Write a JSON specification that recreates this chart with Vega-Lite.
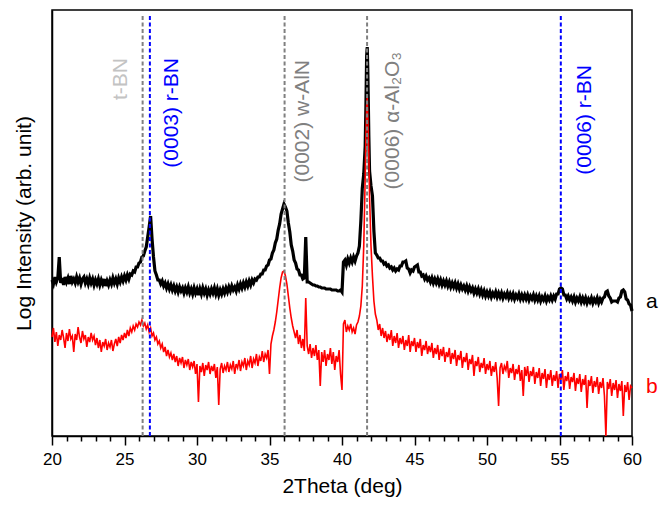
{
  "$schema": "https://vega.github.io/schema/vega-lite/v6.json",
  "width": 580,
  "height": 426,
  "autosize": {"type": "none"},
  "padding": {"left": 52, "top": 10, "right": 33, "bottom": 69},
  "config": {
    "view": {"stroke": "black", "strokeWidth": 1.5},
    "font": "Liberation Sans"
  },
  "datasets": {
    "xrd": [
      {"x":20.0,"a":156,"b":99},{"x":20.1,"a":152,"b":108},{"x":20.2,"a":159,"b":94},{"x":20.3,"a":154,"b":104},{"x":20.4,"a":158,"b":90},
      {"x":20.5,"a":179,"b":101},{"x":20.6,"a":153,"b":96},{"x":20.7,"a":158,"b":106},{"x":20.8,"a":151,"b":98},{"x":20.9,"a":159,"b":88},
      {"x":21.0,"a":154,"b":103},{"x":21.1,"a":158,"b":95},{"x":21.2,"a":152,"b":107},{"x":21.3,"a":160,"b":97},{"x":21.4,"a":154,"b":100},
      {"x":21.5,"a":157,"b":84},{"x":21.6,"a":153,"b":102},{"x":21.7,"a":159,"b":96},{"x":21.8,"a":154,"b":109},{"x":21.9,"a":158,"b":99},
      {"x":22.0,"a":152,"b":93},{"x":22.1,"a":157,"b":105},{"x":22.2,"a":159,"b":97},{"x":22.3,"a":153,"b":101},{"x":22.4,"a":157,"b":89},
      {"x":22.5,"a":152,"b":99},{"x":22.6,"a":158,"b":94},{"x":22.7,"a":153,"b":103},{"x":22.8,"a":157,"b":96},{"x":22.9,"a":151,"b":100},
      {"x":23.0,"a":156,"b":91},{"x":23.1,"a":152,"b":98},{"x":23.2,"a":157,"b":88},{"x":23.3,"a":151,"b":96},{"x":23.4,"a":156,"b":84},
      {"x":23.5,"a":152,"b":94},{"x":23.6,"a":157,"b":90},{"x":23.7,"a":150,"b":97},{"x":23.8,"a":155,"b":86},{"x":23.9,"a":151,"b":93},
      {"x":24.0,"a":156,"b":89},{"x":24.1,"a":152,"b":96},{"x":24.2,"a":158,"b":85},{"x":24.3,"a":153,"b":92},{"x":24.4,"a":157,"b":97},
      {"x":24.5,"a":152,"b":90},{"x":24.6,"a":158,"b":99},{"x":24.7,"a":154,"b":93},{"x":24.8,"a":159,"b":101},{"x":24.9,"a":155,"b":96},
      {"x":25.0,"a":160,"b":103},{"x":25.1,"a":156,"b":98},{"x":25.2,"a":161,"b":106},{"x":25.3,"a":157,"b":100},{"x":25.4,"a":162,"b":108},
      {"x":25.5,"a":161,"b":104},{"x":25.6,"a":165,"b":110},{"x":25.7,"a":164,"b":106},{"x":25.8,"a":169,"b":112},{"x":25.9,"a":169,"b":109},
      {"x":26.0,"a":173,"b":114},{"x":26.1,"a":174,"b":111},{"x":26.2,"a":179,"b":116},{"x":26.3,"a":180,"b":110},{"x":26.4,"a":185,"b":113},
      {"x":26.5,"a":189,"b":107},{"x":26.6,"a":199,"b":111},{"x":26.7,"a":209,"b":104},{"x":26.8,"a":220,"b":108},{"x":26.9,"a":197,"b":100},
      {"x":27.0,"a":179,"b":103},{"x":27.1,"a":165,"b":96},{"x":27.2,"a":161,"b":99},{"x":27.3,"a":156,"b":92},{"x":27.4,"a":156,"b":95},
      {"x":27.5,"a":152,"b":88},{"x":27.6,"a":155,"b":92},{"x":27.7,"a":150,"b":84},{"x":27.8,"a":153,"b":89},{"x":27.9,"a":148,"b":80},
      {"x":28.0,"a":152,"b":86},{"x":28.1,"a":147,"b":79},{"x":28.2,"a":151,"b":83},{"x":28.3,"a":146,"b":76},{"x":28.4,"a":150,"b":82},
      {"x":28.5,"a":145,"b":74},{"x":28.6,"a":149,"b":80},{"x":28.7,"a":144,"b":70},{"x":28.8,"a":149,"b":78},{"x":28.9,"a":145,"b":73},
      {"x":29.0,"a":148,"b":79},{"x":29.1,"a":143,"b":68},{"x":29.2,"a":148,"b":76},{"x":29.3,"a":144,"b":71},{"x":29.4,"a":149,"b":77},
      {"x":29.5,"a":143,"b":66},{"x":29.6,"a":147,"b":74},{"x":29.7,"a":142,"b":69},{"x":29.8,"a":148,"b":75},{"x":29.9,"a":143,"b":62},
      {"x":30.0,"a":147,"b":72},{"x":30.1,"a":141,"b":34},{"x":30.2,"a":147,"b":70},{"x":30.3,"a":142,"b":64},{"x":30.4,"a":148,"b":73},
      {"x":30.5,"a":143,"b":60},{"x":30.6,"a":147,"b":71},{"x":30.7,"a":141,"b":66},{"x":30.8,"a":146,"b":74},{"x":30.9,"a":142,"b":62},
      {"x":31.0,"a":147,"b":70},{"x":31.1,"a":143,"b":65},{"x":31.2,"a":148,"b":72},{"x":31.3,"a":142,"b":58},{"x":31.4,"a":147,"b":69},
      {"x":31.5,"a":141,"b":31},{"x":31.6,"a":146,"b":67},{"x":31.7,"a":142,"b":73},{"x":31.8,"a":147,"b":63},{"x":31.9,"a":143,"b":70},
      {"x":32.0,"a":148,"b":66},{"x":32.1,"a":144,"b":74},{"x":32.2,"a":149,"b":64},{"x":32.3,"a":145,"b":71},{"x":32.4,"a":150,"b":67},
      {"x":32.5,"a":146,"b":75},{"x":32.6,"a":149,"b":62},{"x":32.7,"a":145,"b":72},{"x":32.8,"a":151,"b":68},{"x":32.9,"a":147,"b":76},
      {"x":33.0,"a":152,"b":65},{"x":33.1,"a":148,"b":74},{"x":33.2,"a":153,"b":70},{"x":33.3,"a":149,"b":78},{"x":33.4,"a":154,"b":66},
      {"x":33.5,"a":150,"b":75},{"x":33.6,"a":155,"b":71},{"x":33.7,"a":151,"b":80},{"x":33.8,"a":156,"b":68},{"x":33.9,"a":153,"b":77},
      {"x":34.0,"a":157,"b":73},{"x":34.1,"a":156,"b":82},{"x":34.2,"a":159,"b":70},{"x":34.3,"a":159,"b":79},{"x":34.4,"a":162,"b":75},
      {"x":34.5,"a":162,"b":85},{"x":34.6,"a":166,"b":74},{"x":34.7,"a":166,"b":82},{"x":34.8,"a":170,"b":78},{"x":34.9,"a":171,"b":86},
      {"x":35.0,"a":176,"b":62},{"x":35.1,"a":177,"b":92},{"x":35.2,"a":183,"b":100},{"x":35.3,"a":186,"b":106},{"x":35.4,"a":193,"b":114},
      {"x":35.5,"a":197,"b":124},{"x":35.6,"a":206,"b":136},{"x":35.7,"a":212,"b":148},{"x":35.8,"a":222,"b":158},{"x":35.9,"a":227,"b":164},
      {"x":36.0,"a":232,"b":165},{"x":36.1,"a":229,"b":160},{"x":36.2,"a":225,"b":152},{"x":36.3,"a":213,"b":140},{"x":36.4,"a":204,"b":128},
      {"x":36.5,"a":191,"b":118},{"x":36.6,"a":185,"b":110},{"x":36.7,"a":176,"b":104},{"x":36.8,"a":173,"b":98},{"x":36.9,"a":167,"b":106},
      {"x":37.0,"a":166,"b":92},{"x":37.1,"a":161,"b":101},{"x":37.2,"a":161,"b":88},{"x":37.3,"a":157,"b":97},{"x":37.4,"a":158,"b":85},
      {"x":37.5,"a":199,"b":138},{"x":37.6,"a":154,"b":90},{"x":37.7,"a":154,"b":82},{"x":37.8,"a":153,"b":92},{"x":37.9,"a":152,"b":78},
      {"x":38.0,"a":151,"b":88},{"x":38.1,"a":151,"b":80},{"x":38.2,"a":150,"b":91},{"x":38.3,"a":150,"b":76},{"x":38.4,"a":149,"b":86},
      {"x":38.5,"a":149,"b":50},{"x":38.6,"a":148,"b":84},{"x":38.7,"a":148,"b":74},{"x":38.8,"a":148,"b":86},{"x":38.9,"a":147,"b":70},
      {"x":39.0,"a":147,"b":82},{"x":39.1,"a":147,"b":76},{"x":39.2,"a":147,"b":88},{"x":39.3,"a":146,"b":72},{"x":39.4,"a":146,"b":84},
      {"x":39.5,"a":146,"b":66},{"x":39.6,"a":146,"b":80},{"x":39.7,"a":145,"b":74},{"x":39.8,"a":145,"b":86},{"x":39.9,"a":146,"b":62},
      {"x":40.0,"a":144,"b":46},{"x":40.1,"a":174,"b":112},{"x":40.2,"a":176,"b":116},{"x":40.3,"a":171,"b":104},{"x":40.4,"a":177,"b":110},
      {"x":40.5,"a":173,"b":106},{"x":40.6,"a":178,"b":112},{"x":40.7,"a":174,"b":104},{"x":40.8,"a":179,"b":108},{"x":40.9,"a":175,"b":102},
      {"x":41.0,"a":180,"b":111},{"x":41.1,"a":183,"b":114},{"x":41.2,"a":190,"b":120},{"x":41.3,"a":215,"b":130},{"x":41.4,"a":248,"b":150},
      {"x":41.5,"a":262,"b":190},{"x":41.6,"a":290,"b":260},{"x":41.65,"a":330,"b":300},{"x":41.7,"a":380,"b":330},{"x":41.74,"a":389,"b":338},
      {"x":41.78,"a":366,"b":320},{"x":41.85,"a":300,"b":280},{"x":41.9,"a":265,"b":240},{"x":42.0,"a":250,"b":190},{"x":42.1,"a":240,"b":160},
      {"x":42.2,"a":205,"b":135},{"x":42.3,"a":183,"b":122},{"x":42.4,"a":181,"b":116},{"x":42.5,"a":178,"b":106},{"x":42.6,"a":178,"b":112},
      {"x":42.7,"a":175,"b":100},{"x":42.8,"a":175,"b":108},{"x":42.9,"a":172,"b":98},{"x":43.0,"a":173,"b":105},{"x":43.1,"a":170,"b":94},
      {"x":43.2,"a":171,"b":102},{"x":43.3,"a":168,"b":96},{"x":43.4,"a":169,"b":106},{"x":43.5,"a":166,"b":90},{"x":43.6,"a":168,"b":100},
      {"x":43.7,"a":165,"b":93},{"x":43.8,"a":167,"b":103},{"x":43.9,"a":166,"b":88},{"x":44.0,"a":170,"b":98},{"x":44.1,"a":170,"b":92},
      {"x":44.2,"a":174,"b":100},{"x":44.3,"a":174,"b":86},{"x":44.4,"a":175,"b":96},{"x":44.5,"a":168,"b":90},{"x":44.6,"a":167,"b":101},
      {"x":44.7,"a":163,"b":84},{"x":44.8,"a":166,"b":95},{"x":44.9,"a":165,"b":90},{"x":45.0,"a":169,"b":98},{"x":45.1,"a":170,"b":84},
      {"x":45.2,"a":171,"b":94},{"x":45.3,"a":164,"b":88},{"x":45.4,"a":164,"b":97},{"x":45.5,"a":160,"b":80},{"x":45.6,"a":161,"b":91},
      {"x":45.7,"a":157,"b":86},{"x":45.8,"a":160,"b":95},{"x":45.9,"a":156,"b":82},{"x":46.0,"a":158,"b":90},{"x":46.1,"a":154,"b":84},
      {"x":46.2,"a":158,"b":93},{"x":46.3,"a":153,"b":78},{"x":46.4,"a":157,"b":88},{"x":46.5,"a":153,"b":82},{"x":46.6,"a":157,"b":91},
      {"x":46.7,"a":152,"b":76},{"x":46.8,"a":156,"b":87},{"x":46.9,"a":151,"b":80},{"x":47.0,"a":155,"b":89},{"x":47.1,"a":151,"b":74},
      {"x":47.2,"a":155,"b":84},{"x":47.3,"a":150,"b":79},{"x":47.4,"a":154,"b":88},{"x":47.5,"a":149,"b":72},{"x":47.6,"a":153,"b":83},
      {"x":47.7,"a":149,"b":77},{"x":47.8,"a":153,"b":86},{"x":47.9,"a":148,"b":70},{"x":48.0,"a":152,"b":81},{"x":48.1,"a":147,"b":76},
      {"x":48.2,"a":151,"b":85},{"x":48.3,"a":147,"b":68},{"x":48.4,"a":150,"b":79},{"x":48.5,"a":146,"b":74},{"x":48.6,"a":150,"b":83},
      {"x":48.7,"a":145,"b":66},{"x":48.8,"a":149,"b":77},{"x":48.9,"a":145,"b":72},{"x":49.0,"a":148,"b":81},{"x":49.1,"a":143,"b":60},
      {"x":49.2,"a":147,"b":75},{"x":49.3,"a":143,"b":70},{"x":49.4,"a":147,"b":79},{"x":49.5,"a":142,"b":64},{"x":49.6,"a":146,"b":73},
      {"x":49.7,"a":141,"b":68},{"x":49.8,"a":145,"b":78},{"x":49.9,"a":140,"b":62},{"x":50.0,"a":144,"b":72},{"x":50.1,"a":140,"b":66},
      {"x":50.2,"a":144,"b":75},{"x":50.3,"a":139,"b":60},{"x":50.4,"a":143,"b":70},{"x":50.5,"a":140,"b":64},{"x":50.6,"a":144,"b":74},
      {"x":50.7,"a":139,"b":58},{"x":50.8,"a":143,"b":30},{"x":50.9,"a":139,"b":68},{"x":51.0,"a":143,"b":73},{"x":51.1,"a":138,"b":62},
      {"x":51.2,"a":142,"b":70},{"x":51.3,"a":139,"b":66},{"x":51.4,"a":143,"b":75},{"x":51.5,"a":138,"b":58},{"x":51.6,"a":142,"b":68},
      {"x":51.7,"a":138,"b":63},{"x":51.8,"a":142,"b":72},{"x":51.9,"a":137,"b":56},{"x":52.0,"a":141,"b":67},{"x":52.1,"a":138,"b":62},
      {"x":52.2,"a":142,"b":71},{"x":52.3,"a":137,"b":55},{"x":52.4,"a":141,"b":66},{"x":52.5,"a":137,"b":40},{"x":52.6,"a":141,"b":69},
      {"x":52.7,"a":137,"b":60},{"x":52.8,"a":141,"b":70},{"x":52.9,"a":136,"b":54},{"x":53.0,"a":140,"b":65},{"x":53.1,"a":137,"b":60},
      {"x":53.2,"a":141,"b":69},{"x":53.3,"a":136,"b":52},{"x":53.4,"a":140,"b":64},{"x":53.5,"a":136,"b":58},{"x":53.6,"a":140,"b":68},
      {"x":53.7,"a":135,"b":50},{"x":53.8,"a":139,"b":63},{"x":53.9,"a":136,"b":57},{"x":54.0,"a":140,"b":67},{"x":54.1,"a":135,"b":48},
      {"x":54.2,"a":139,"b":62},{"x":54.3,"a":136,"b":56},{"x":54.4,"a":140,"b":66},{"x":54.5,"a":136,"b":50},{"x":54.6,"a":140,"b":61},
      {"x":54.7,"a":137,"b":55},{"x":54.8,"a":142,"b":65},{"x":54.9,"a":142,"b":48},{"x":55.0,"a":147,"b":62},{"x":55.1,"a":148,"b":56},
      {"x":55.2,"a":147,"b":66},{"x":55.3,"a":141,"b":46},{"x":55.4,"a":141,"b":60},{"x":55.5,"a":137,"b":55},{"x":55.6,"a":140,"b":64},
      {"x":55.7,"a":136,"b":47},{"x":55.8,"a":139,"b":59},{"x":55.9,"a":135,"b":54},{"x":56.0,"a":139,"b":63},{"x":56.1,"a":134,"b":45},
      {"x":56.2,"a":138,"b":58},{"x":56.3,"a":135,"b":52},{"x":56.4,"a":139,"b":62},{"x":56.5,"a":134,"b":44},{"x":56.6,"a":138,"b":57},
      {"x":56.7,"a":134,"b":51},{"x":56.8,"a":138,"b":61},{"x":56.9,"a":133,"b":28},{"x":57.0,"a":137,"b":56},{"x":57.1,"a":134,"b":50},
      {"x":57.2,"a":138,"b":60},{"x":57.3,"a":133,"b":43},{"x":57.4,"a":137,"b":55},{"x":57.5,"a":134,"b":49},{"x":57.6,"a":138,"b":59},
      {"x":57.7,"a":133,"b":42},{"x":57.8,"a":137,"b":54},{"x":57.9,"a":134,"b":48},{"x":58.0,"a":138,"b":58},{"x":58.1,"a":139,"b":40},
      {"x":58.2,"a":144,"b":0},{"x":58.3,"a":145,"b":54},{"x":58.4,"a":140,"b":47},{"x":58.5,"a":138,"b":57},{"x":58.6,"a":134,"b":40},
      {"x":58.7,"a":135,"b":53},{"x":58.8,"a":135,"b":46},{"x":58.9,"a":135,"b":56},{"x":59.0,"a":134,"b":38},{"x":59.1,"a":138,"b":52},
      {"x":59.2,"a":139,"b":45},{"x":59.3,"a":145,"b":55},{"x":59.4,"a":146,"b":20},{"x":59.5,"a":144,"b":51},{"x":59.6,"a":137,"b":44},
      {"x":59.7,"a":136,"b":54},{"x":59.8,"a":132,"b":36},{"x":59.9,"a":131,"b":50},{"x":60.0,"a":125,"b":48}
    ],
    "refs": [
      {"x":26.25,"kind":"gray"},
      {"x":26.75,"kind":"blue"},
      {"x":36.04,"kind":"gray"},
      {"x":41.73,"kind":"gray"},
      {"x":55.09,"kind":"blue"}
    ],
    "peaklabels": [
      {"x":24.76,"y":378,"text":"t-BN","kind":"light"},
      {"x":28.28,"y":378,"text":"(0003) r-BN","kind":"blue"},
      {"x":37.31,"y":376,"text":"(0002) w-AlN","kind":"gray"},
      {"x":43.52,"y":384,"text":"(0006) α-Al₂O₃","kind":"gray"},
      {"x":56.76,"y":371,"text":"(0006) r-BN","kind":"blue"}
    ],
    "serieslabels": [
      {"x":60.96,"y":134,"text":"a","kind":"a"},
      {"x":60.96,"y":49,"text":"b","kind":"b"}
    ]
  },
  "layer": [
    {
      "data": {"name": "xrd"},
      "mark": {"type": "line", "color": "black", "strokeWidth": 3.2, "interpolate": "linear"},
      "encoding": {
        "x": {
          "field": "x", "type": "quantitative",
          "scale": {"domain": [20, 60], "nice": false, "zero": false},
          "axis": {
            "orient": "bottom",
            "values": [20, 25, 30, 35, 40, 45, 50, 55, 60],
            "tickSize": 9,
            "tickColor": "black", "tickWidth": 1.5,
            "domainColor": "black", "domainWidth": 1.5,
            "grid": false,
            "labelFont": "Liberation Sans", "labelFontSize": 17, "labelColor": "black",
            "labelPadding": 6, "labelFlush": false, "labelOverlap": false,
            "title": "2Theta (deg)", "titleFont": "Liberation Sans", "titleFontSize": 21,
            "titleFontWeight": "normal", "titleColor": "black", "titlePadding": 8
          }
        },
        "y": {
          "field": "a", "type": "quantitative",
          "scale": {"domain": [0, 426], "nice": false, "zero": false},
          "axis": {
            "ticks": false, "labels": false, "grid": false,
            "domainColor": "black", "domainWidth": 1.5,
            "title": "Log Intensity (arb. unit)", "titleFont": "Liberation Sans",
            "titleFontSize": 21, "titleFontWeight": "normal", "titleColor": "black",
            "titlePadding": 18
          }
        }
      }
    },
    {
      "data": {"name": "xrd"},
      "mark": {"type": "line", "color": "#ff0000", "strokeWidth": 1.6, "interpolate": "linear"},
      "encoding": {
        "x": {
          "field": "x", "type": "quantitative",
          "axis": {
            "orient": "bottom",
            "values": [21,22,23,24,26,27,28,29,31,32,33,34,36,37,38,39,41,42,43,44,46,47,48,49,51,52,53,54,56,57,58,59],
            "tickSize": 5, "tickColor": "black", "tickWidth": 1.5,
            "labels": false, "domain": false, "grid": false, "title": null
          }
        },
        "y": {"field": "b", "type": "quantitative"}
      }
    },
    {
      "data": {"name": "refs"},
      "mark": {"type": "rule", "strokeWidth": 2, "strokeDash": [4, 2.5]},
      "encoding": {
        "x": {"field": "x", "type": "quantitative", "axis": null},
        "y": {"datum": 0, "type": "quantitative"},
        "y2": {"datum": 421},
        "color": {
          "field": "kind", "type": "nominal",
          "scale": {"domain": ["gray", "blue"], "range": ["#808080", "#0000ff"]},
          "legend": null
        }
      }
    },
    {
      "data": {"name": "peaklabels"},
      "mark": {"type": "text", "angle": -90, "align": "right", "baseline": "middle", "font": "Liberation Sans", "fontSize": 21},
      "encoding": {
        "x": {"field": "x", "type": "quantitative", "axis": null},
        "y": {"field": "y", "type": "quantitative"},
        "text": {"field": "text"},
        "color": {
          "field": "kind", "type": "nominal",
          "scale": {"domain": ["light", "gray", "blue"], "range": ["#c3c3c3", "#808080", "#0000ff"]},
          "legend": null
        }
      }
    },
    {
      "data": {"name": "serieslabels"},
      "mark": {"type": "text", "align": "left", "baseline": "middle", "font": "Liberation Sans", "fontSize": 21},
      "encoding": {
        "x": {"field": "x", "type": "quantitative", "axis": null},
        "y": {"field": "y", "type": "quantitative"},
        "text": {"field": "text"},
        "color": {
          "field": "kind", "type": "nominal",
          "scale": {"domain": ["a", "b"], "range": ["#000000", "#ff0000"]},
          "legend": null
        }
      }
    }
  ],
  "resolve": {
    "scale": {"color": "independent", "x": "shared"},
    "axis": {"x": "independent"}
  }
}
